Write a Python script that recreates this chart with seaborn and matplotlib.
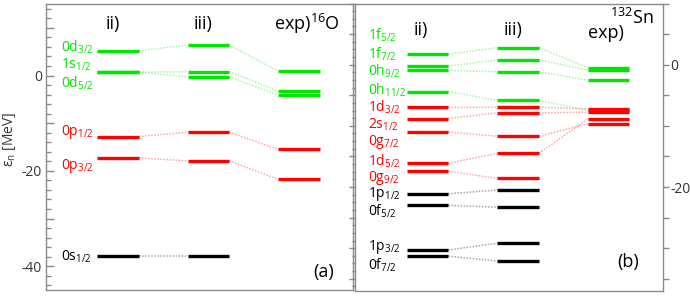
import matplotlib
matplotlib.use("Agg")
import matplotlib.pyplot as plt
import numpy as np
import seaborn as sns
from matplotlib.ticker import MultipleLocator, FuncFormatter

# ---- data (single-neutron energies, MeV) ----
# columns: ii), iii), exp)
columns = ["ii)", "iii)", "exp)"]

# 16O
o_names = ["0d_{3/2}", "1s_{1/2}", "0d_{5/2}", "0p_{1/2}", "0p_{3/2}", "0s_{1/2}"]
o_kind = ["part", "part", "part", "hole", "hole", "core"]
o_ii = [5.2, 0.7, 0.7, -12.8, -17.3, -37.9]
o_iii = [6.4, 0.8, -0.3, -11.9, -17.9, -37.9]
o_exp = [0.9, -3.2, -4.1, -15.5, -21.8, np.nan]

# 132Sn
sn_names = ["1f_{5/2}", "1f_{7/2}", "0h_{9/2}", "0h_{11/2}",
            "1d_{3/2}", "2s_{1/2}", "0g_{7/2}", "1d_{5/2}", "0g_{9/2}",
            "1p_{1/2}", "0f_{5/2}", "1p_{3/2}", "0f_{7/2}"]
sn_kind = ["part"] * 4 + ["hole"] * 5 + ["core"] * 4
sn_ii = [1.7, -0.95, -0.25, -4.4, -7.0, -8.8, -11.0, -16.1, -17.4,
         -21.1, -23.0, -30.3, -31.3]
sn_iii = [2.8, -1.15, 0.8, -5.85, -6.95, -7.9, -11.7, -14.5, -18.6,
          -20.5, -23.3, -29.2, -32.1]
sn_exp = [-0.5, -2.55, -0.9, -7.45, -7.25, -7.75, -9.65, -8.9, np.nan,
          np.nan, np.nan, np.nan, np.nan]

# ---- style ----
sns.set_style("ticks")
plt.rcParams["font.family"] = ["Open Sans", "DejaVu Sans"]
plt.rcParams["mathtext.fontset"] = "custom"
plt.rcParams["mathtext.rm"] = "Open Sans"
plt.rcParams["mathtext.it"] = "Open Sans:italic"
plt.rcParams["mathtext.default"] = "regular"

palette = {"part": "#00e600", "hole": "#ff0000", "core": "#000000"}
spine_col = "#8a8a8a"
text_col = "#333333"
hw = 0.23  # half width of a level bar


def draw_levels(ax, names, kind, values, label_y, label_x):
    vals = np.array(values, dtype=float)  # shape (levels, 3)
    for k in range(len(names)):
        c = palette[kind[k]]
        for j in range(3):
            if np.isnan(vals[k, j]):
                continue
            ax.hlines(vals[k, j], j - hw, j + hw, color=c, lw=2.4, zorder=3)
            if j < 2 and not np.isnan(vals[k, j + 1]):
                ax.plot([j + hw, j + 1 - hw], [vals[k, j], vals[k, j + 1]],
                        color=c, alpha=0.35, lw=1.1, ls=(0, (1, 1)), zorder=2)
        ax.text(label_x, label_y[k], f"{names[k][:2]}$_{{{names[k][4:-1]}}}$",
                color=c, fontsize=10, va="center", ha="left")


def style_axis(ax):
    for s in ax.spines.values():
        s.set_visible(True)
        s.set_color(spine_col)
        s.set_linewidth(1.0)
    ax.set_xticks([])
    ax.set_xlim(-0.8, 2.6)


fig = plt.figure(figsize=(6.9, 3.02), dpi=100)

# ---- (a) 16O ----
ax1 = fig.add_axes([46 / 690, 12 / 302, 307 / 690, 286 / 302])
style_axis(ax1)
ax1.set_ylim(-45, 15)
draw_levels(ax1, o_names, o_kind, np.column_stack([o_ii, o_iii, o_exp]),
            [6.0, 2.2, -1.6, -11.8, -18.9, -38.1], -0.63)
ax1.yaxis.set_major_locator(MultipleLocator(10))
ax1.yaxis.set_minor_locator(MultipleLocator(2))
ax1.yaxis.set_major_formatter(FuncFormatter(lambda v, p: f"{v:.0f}" if v % 20 == 0 else ""))
ax1.tick_params(axis="y", which="major", direction="in", length=6, width=1, pad=3,
                color=spine_col, labelsize=10, labelcolor=text_col, left=True, right=False)
ax1.tick_params(axis="y", which="minor", direction="in", length=3.5, width=1,
                color=spine_col, left=True, right=False)
for j, t in enumerate(columns[:2]):
    ax1.text(j - 0.06, 10.8, t, fontsize=13, ha="center", va="center", color="black")
ax1.text(1.72, 10.8, "exp)$^{16}$O", fontsize=13, ha="left", va="center", color="black")
ax1.text(2.27, -41.2, "(a)", fontsize=13, ha="center", va="center", color="black")

# ---- (b) 132Sn ----
ax2 = fig.add_axes([355 / 690, 11 / 302, 308 / 690, 287.5 / 302])
style_axis(ax2)
ax2.set_ylim(-37, 10)
draw_levels(ax2, sn_names, sn_kind, np.column_stack([sn_ii, sn_iii, sn_exp]),
            [4.8, 1.65, -1.1, -4.2, -7.0, -9.9, -12.7, -15.75, -18.5,
             -21.2, -23.9, -29.8, -32.8], -0.66)
ax2.yaxis.set_major_locator(MultipleLocator(5))
ax2.yaxis.set_minor_locator(MultipleLocator(1.25))
ax2.yaxis.set_major_formatter(FuncFormatter(lambda v, p: f"{v:.0f}" if v % 20 == 0 else ""))
ax2.tick_params(axis="y", which="major", direction="out", length=4, width=1, pad=1.5,
                color=spine_col, labelsize=10, labelcolor=text_col,
                left=True, right=True, labelleft=False, labelright=True)
ax2.tick_params(axis="y", which="minor", direction="out", length=2.5, width=1,
                color=spine_col, left=True, right=False)
ax2.text(-0.07, 5.7, columns[0], fontsize=13, ha="center", va="center", color="black")
ax2.text(0.94, 5.7, columns[1], fontsize=13, ha="center", va="center", color="black")
ax2.text(1.97, 5.2, columns[2], fontsize=13, ha="center", va="center", color="black")
ax2.text(2.02, 7.6, "$^{132}$Sn", fontsize=13, ha="left", va="center", color="black")
ax2.text(2.21, -32.2, "(b)", fontsize=13, ha="center", va="center", color="black")

fig.text(10 / 690, 1 - 139 / 302, "ε$_n$ [MeV]", rotation=90, fontsize=10,
         ha="center", va="center", color=text_col)

fig.savefig("out.png", dpi=100)
